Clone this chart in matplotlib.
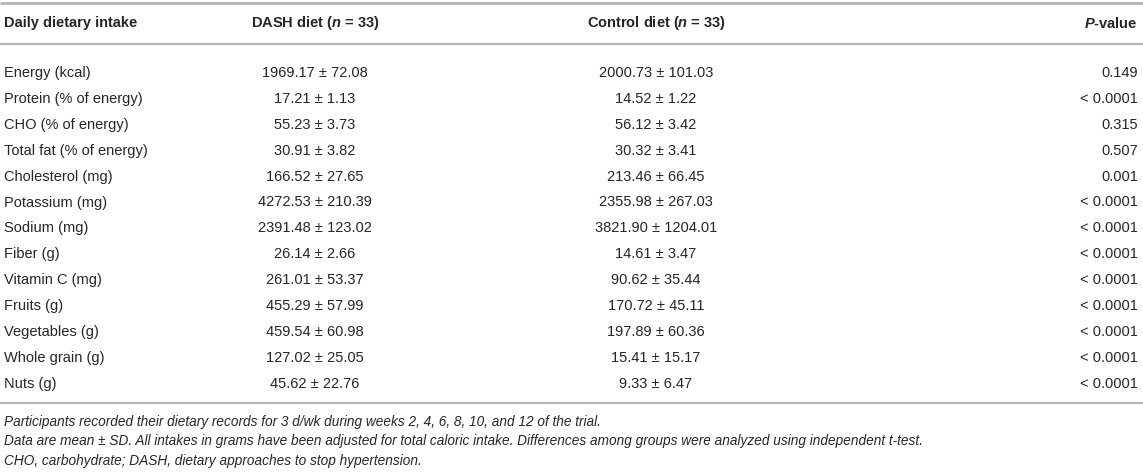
import matplotlib.pyplot as plt

# table contents
intake = ["Energy (kcal)", "Protein (% of energy)", "CHO (% of energy)",
          "Total fat (% of energy)", "Cholesterol (mg)", "Potassium (mg)",
          "Sodium (mg)", "Fiber (g)", "Vitamin C (mg)", "Fruits (g)",
          "Vegetables (g)", "Whole grain (g)", "Nuts (g)"]
dash_mean = ["1969.17", "17.21", "55.23", "30.91", "166.52", "4272.53", "2391.48",
             "26.14", "261.01", "455.29", "459.54", "127.02", "45.62"]
dash_sd = ["72.08", "1.13", "3.73", "3.82", "27.65", "210.39", "123.02",
           "2.66", "53.37", "57.99", "60.98", "25.05", "22.76"]
ctrl_mean = ["2000.73", "14.52", "56.12", "30.32", "213.46", "2355.98", "3821.90",
             "14.61", "90.62", "170.72", "197.89", "15.41", "9.33"]
ctrl_sd = ["101.03", "1.22", "3.42", "3.41", "66.45", "267.03", "1204.01",
           "3.47", "35.44", "45.11", "60.36", "15.17", "6.47"]
p_values = ["0.149", "< 0.0001", "0.315", "0.507", "0.001", "< 0.0001", "< 0.0001",
            "< 0.0001", "< 0.0001", "< 0.0001", "< 0.0001", "< 0.0001", "< 0.0001"]
notes = ["Participants recorded their dietary records for 3 d/wk during weeks 2, 4, 6, 8, 10, and 12 of the trial.",
         "Data are mean \u00b1 SD. All intakes in grams have been adjusted for total caloric intake. Differences among groups were analyzed using independent t-test.",
         "CHO, carbohydrate; DASH, dietary approaches to stop hypertension."]

plt.rcParams['font.family'] = ['Liberation Sans', 'DejaVu Sans']
plt.rcParams['mathtext.fontset'] = 'custom'
plt.rcParams['mathtext.rm'] = 'Liberation Sans'
plt.rcParams['mathtext.it'] = 'Liberation Sans:italic'
plt.rcParams['mathtext.bf'] = 'Liberation Sans:bold'
plt.rcParams['mathtext.bfit'] = 'Liberation Sans:italic:bold'

W, H = 1143, 472
fig = plt.figure(figsize=(W / 100, H / 100), dpi=100)
ax = fig.add_axes([0, 0, 1, 1])
ax.set_xlim(0, W)
ax.set_ylim(H, 0)
ax.axis('off')

txt = '#262626'
line_c = '#b4b4b4'
fs = 10.5
x_first, x_dash, x_ctrl, x_p = 4, 315, 656, 1138

# rules
for yl, lw in [(3, 2.0), (43.5, 1.6), (403, 1.6)]:
    ax.plot([0, W], [yl, yl], color=line_c, lw=lw, solid_capstyle='butt')

# header
ax.text(x_first, 23, "Daily dietary intake", fontsize=fs, fontweight='bold', color=txt, va='center')
ax.text(x_dash, 23, r"DASH diet ($\mathbfit{n}$ = 33)", fontsize=fs, fontweight='bold', color=txt,
        ha='center', va='center')
ax.text(x_ctrl, 23, r"Control diet ($\mathbfit{n}$ = 33)", fontsize=fs, fontweight='bold', color=txt,
        ha='center', va='center')
ax.text(x_p, 23, r"$\mathbfit{P}$-value", fontsize=fs, fontweight='bold', color=txt,
        ha='right', va='center')

# body
y0, dy = 73, 25.9
for i, name in enumerate(intake):
    y = y0 + i * dy
    ax.text(x_first, y, name, fontsize=fs, color=txt, va='center')
    ax.text(x_dash, y, f"{dash_mean[i]} \u00b1 {dash_sd[i]}", fontsize=fs, color=txt,
            ha='center', va='center')
    ax.text(x_ctrl, y, f"{ctrl_mean[i]} \u00b1 {ctrl_sd[i]}", fontsize=fs, color=txt,
            ha='center', va='center')
    ax.text(x_p, y, p_values[i], fontsize=fs, color=txt, ha='right', va='center')

# footnotes
for j, n in enumerate(notes):
    ax.text(x_first, 422 + j * 19.5, n, fontsize=9.8, style='italic', color=txt, va='center')

fig.savefig("out.png", dpi=100)
